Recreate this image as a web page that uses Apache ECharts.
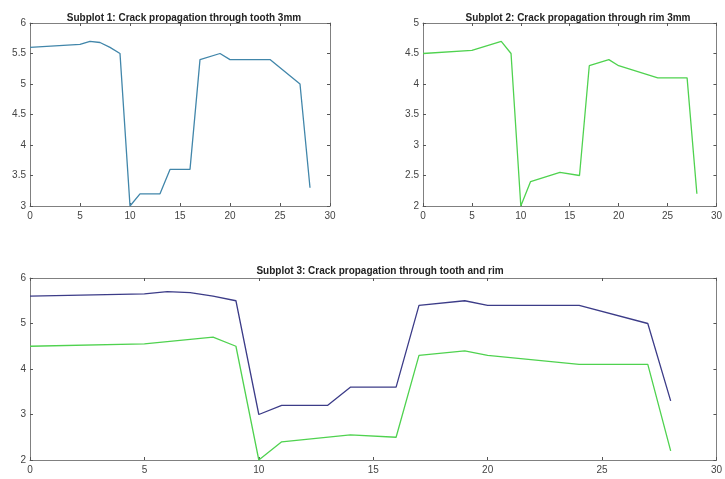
<!DOCTYPE html>
<html>
<head>
<meta charset="utf-8">
<script src="https://cdn.jsdelivr.net/npm/echarts@6/dist/echarts.min.js"></script>
<style>
  html, body { margin: 0; padding: 0; background: #fff; }
  #main { width: 725px; height: 479px; }
</style>
</head>
<body>
<div id="main"></div>
<script>
// crack length (mm) at each step
var toothX = [0, 5, 6, 7, 8, 9, 10, 11, 13, 14, 16, 17, 19, 20, 24, 27, 28];
var toothY = [5.6, 5.65, 5.7, 5.68, 5.6, 5.5, 3.0, 3.2, 3.2, 3.6, 3.6, 5.4, 5.5, 5.4, 5.4, 5.0, 3.3];
var rimX = [0, 5, 8, 9, 10, 11, 14, 16, 17, 19, 20, 24, 27, 28];
var rimY = [4.5, 4.55, 4.7, 4.5, 2.0, 2.4, 2.55, 2.5, 4.3, 4.4, 4.3, 4.1, 4.1, 2.2];
var titles = [
  'Subplot 1: Crack propagation through tooth 3mm',
  'Subplot 2: Crack propagation through rim 3mm',
  'Subplot 3: Crack propagation through tooth and rim'
];

function pairs(xs, ys) {
  return xs.map(function (x, i) { return [x, ys[i]]; });
}

var labelFont = { color: '#444', fontSize: 10, fontFamily: 'Liberation Sans, Arial, sans-serif' };
var lineCol = '#808080';

function xAx(grid, pos) {
  return {
    type: 'value', gridIndex: grid, position: pos, min: 0, max: 30, interval: 5,
    axisLine: { show: true, onZero: false, lineStyle: { color: lineCol } },
    axisTick: { show: true, inside: true, length: 3, lineStyle: { color: '#555' } },
    axisLabel: Object.assign({ show: pos === 'bottom', margin: 5 }, labelFont),
    splitLine: { show: false }
  };
}
function yAx(grid, pos, min, max, step) {
  return {
    type: 'value', gridIndex: grid, position: pos, min: min, max: max, interval: step,
    axisLine: { show: true, onZero: false, lineStyle: { color: lineCol } },
    axisTick: { show: true, inside: true, length: 3, lineStyle: { color: '#555' } },
    axisLabel: Object.assign({ show: pos === 'left', margin: 4 }, labelFont),
    splitLine: { show: false }
  };
}

var myChart = echarts.init(document.getElementById('main'));
var titleStyle = { fontSize: 10, fontWeight: 'bold', color: '#222', fontFamily: 'Liberation Sans, Arial, sans-serif' };
var option = {
  backgroundColor: '#fff',
  animation: false,
  title: [
    { text: titles[0], left: 179, top: 8, textAlign: 'center', textStyle: titleStyle },
    { text: titles[1], left: 573, top: 8, textAlign: 'center', textStyle: titleStyle },
    { text: titles[2], left: 375, top: 261, textAlign: 'center', textStyle: titleStyle }
  ],
  grid: [
    { left: 30, top: 23, width: 300, height: 183 },
    { left: 423, top: 23, width: 299, height: 183 },
    { left: 30, top: 278, width: 692, height: 182 }
  ],
  xAxis: [
    xAx(0, 'bottom'), xAx(0, 'top'),
    xAx(1, 'bottom'), xAx(1, 'top'),
    xAx(2, 'bottom'), xAx(2, 'top')
  ],
  yAxis: [
    yAx(0, 'left', 3, 6, 0.5), yAx(0, 'right', 3, 6, 0.5),
    yAx(1, 'left', 2, 5, 0.5), yAx(1, 'right', 2, 5, 0.5),
    yAx(2, 'left', 2, 6, 1), yAx(2, 'right', 2, 6, 1)
  ],
  series: [
    {
      name: 'tooth', type: 'line', xAxisIndex: 0, yAxisIndex: 0,
      data: pairs(toothX, toothY), showSymbol: false,
      lineStyle: { color: '#4186aa', width: 1.3 }
    },
    {
      name: 'rim', type: 'line', xAxisIndex: 2, yAxisIndex: 2,
      data: pairs(rimX, rimY), showSymbol: false,
      lineStyle: { color: '#4fd24f', width: 1.3 }
    },
    {
      name: 'tooth', type: 'line', xAxisIndex: 4, yAxisIndex: 4,
      data: pairs(toothX, toothY), showSymbol: false,
      lineStyle: { color: '#3c3c88', width: 1.3 }
    },
    {
      name: 'rim', type: 'line', xAxisIndex: 4, yAxisIndex: 4,
      data: pairs(rimX, rimY), showSymbol: false,
      lineStyle: { color: '#4fd24f', width: 1.3 }
    }
  ]
};
myChart.setOption(option);
</script>
</body>
</html>
